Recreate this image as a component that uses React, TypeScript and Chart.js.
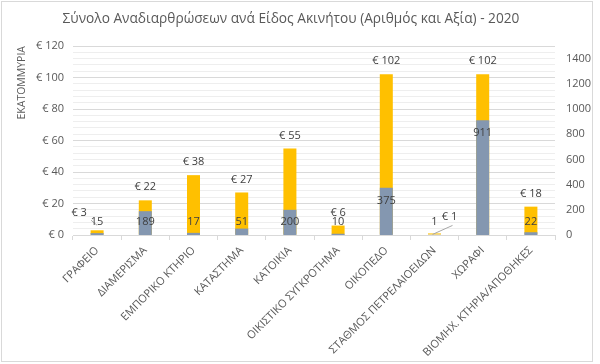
import React, { useEffect, useRef } from "react";
import { Chart, registerables } from "chart.js";

Chart.register(...registerables);

const titleText = "Σύνολο Αναδιαρθρώσεων ανά Είδος Ακινήτου (Αριθμός και Αξία) - 2020";
const categories = [
  "ΓΡΑΦΕΙΟ",
  "ΔΙΑΜΕΡΙΣΜΑ",
  "ΕΜΠΟΡΙΚΟ ΚΤΗΡΙΟ",
  "ΚΑΤΑΣΤΗΜΑ",
  "ΚΑΤΟΙΚΙΑ",
  "ΟΙΚΙΣΤΙΚΟ ΣΥΓΚΡΟΤΗΜΑ",
  "ΟΙΚΟΠΕΔΟ",
  "ΣΤΑΘΜΟΣ ΠΕΤΡΕΛΑΙΟΕΙΔΩΝ",
  "ΧΩΡΑΦΙ",
  "ΒΙΟΜΗΧ. ΚΤΗΡΙΑ/ΑΠΟΘΗΚΕΣ",
];
const valueMillions = [3, 22, 38, 27, 55, 6, 102, 1, 102, 18];
const countValues = [15, 189, 17, 51, 200, 10, 375, 1, 911, 22];

const leftMax = 120;
const leftStep = 4;
const leftLabelStep = 20;
const rightMax = 1500;
const rightStep = 200;
const rightLabelMax = 1400;

const FONT = "'Open Sans', 'Noto Sans', sans-serif";
const TEXT = "#595959";
const LABEL = "#404040";
const YELLOW = "#FFC000";
const BLUEGRAY = "#8497B0";

// manual label nudges (label offset from bar top, leader-line endpoints)
const valueNudge: Record<number, { dx: number; dy: number; from: [number, number]; to: [number, number] }> = {
  0: { dx: -18, dy: -17, from: [12, 7], to: [0, -5] },
  7: { dx: 15, dy: -17, from: [3, 9], to: [-2, 1] },
};

const labelPlugin = {
  id: "customLabels",
  beforeDraw(chart: any) {
    const ctx = chart.ctx;
    ctx.save();
    ctx.strokeStyle = "#d9d9d9";
    ctx.lineWidth = 1;
    ctx.strokeRect(1.5, 1.5, 591, 360);
    ctx.font = `13.7px ${FONT}`;
    ctx.fillStyle = TEXT;
    ctx.textAlign = "center";
    ctx.textBaseline = "middle";
    ctx.fillText(titleText, 291, 19);
    ctx.restore();
  },
  afterDatasetsDraw(chart: any) {
    const ctx = chart.ctx;
    const valMeta = chart.getDatasetMeta(0);
    const cntMeta = chart.getDatasetMeta(1);
    ctx.save();
    ctx.font = `11px ${FONT}`;
    ctx.fillStyle = LABEL;
    ctx.textAlign = "center";
    ctx.textBaseline = "middle";
    valMeta.data.forEach((el: any, i: number) => {
      const nudge = valueNudge[i];
      const text = `€ ${valueMillions[i]}`;
      if (nudge) {
        const lx = el.x + nudge.dx;
        const ly = el.y + nudge.dy;
        ctx.fillText(text, lx, ly);
        ctx.save();
        ctx.strokeStyle = "#a6a6a6";
        ctx.lineWidth = 1;
        ctx.beginPath();
        ctx.moveTo(lx + nudge.from[0], ly + nudge.from[1]);
        ctx.lineTo(el.x + nudge.to[0], el.y + nudge.to[1]);
        ctx.stroke();
        ctx.restore();
      } else {
        ctx.fillText(text, el.x, el.y - 13);
      }
    });
    cntMeta.data.forEach((el: any, i: number) => {
      const y = Math.min(el.y + 13, el.base - 13);
      ctx.fillText(String(countValues[i]), el.x, y);
    });
    ctx.restore();
  },
};

export default function App() {
  const ref = useRef<HTMLCanvasElement | null>(null);
  useEffect(() => {
    if (!ref.current) return;
    const chart = new Chart(ref.current, {
      type: "bar",
      data: {
        labels: categories,
        datasets: [
          {
            label: "Αξία",
            data: valueMillions,
            backgroundColor: YELLOW,
            yAxisID: "y",
            order: 2,
            barPercentage: 0.27,
            categoryPercentage: 1,
          },
          {
            label: "Αριθμός",
            data: countValues,
            backgroundColor: BLUEGRAY,
            yAxisID: "y1",
            order: 1,
            barPercentage: 0.27,
            categoryPercentage: 1,
          },
        ],
      },
      options: {
        responsive: false,
        animation: false,
        devicePixelRatio: 1,
        layout: { padding: { left: 0, right: 0, top: 46, bottom: 0 } },
        plugins: {
          legend: { display: false },
          tooltip: { enabled: false },
          title: { display: false },
        },
        scales: {
          x: {
            stacked: true,
            afterFit(scale: any) {
              scale.height = 129;
            },
            grid: {
              offset: true,
              drawOnChartArea: false,
              drawTicks: true,
              tickLength: 5,
              color: "#d9d9d9",
            },
            border: { display: true, color: "#d9d9d9" },
            ticks: {
              color: TEXT,
              font: { family: FONT, size: 11 },
              minRotation: 45,
              maxRotation: 45,
              autoSkip: false,
              padding: 4,
            },
          },
          y: {
            position: "left",
            min: 0,
            max: leftMax,
            afterFit(scale: any) {
              scale.width = 73;
            },
            border: { display: false },
            grid: {
              drawTicks: false,
              color: (c: any) =>
                c.tick && c.tick.value % leftLabelStep === 0 ? "#d9d9d9" : "#eeeeee",
            },
            ticks: {
              stepSize: leftStep,
              autoSkip: false,
              padding: 9,
              color: TEXT,
              font: { family: FONT, size: 11 },
              callback: (v: any) => (v % leftLabelStep === 0 ? `€ ${v}` : ""),
            },
            title: {
              display: true,
              text: "ΕΚΑΤΟΜΜΥΡΙΑ",
              align: "end",
              color: TEXT,
              font: { family: FONT, size: 10.5 },
              padding: { top: 16, bottom: 4 },
            },
          },
          y1: {
            position: "right",
            min: 0,
            max: rightMax,
            afterFit(scale: any) {
              scale.width = 45;
            },
            border: { display: false },
            grid: { display: false, drawTicks: false },
            ticks: {
              stepSize: rightStep,
              padding: 11,
              color: TEXT,
              font: { family: FONT, size: 11 },
              callback: (v: any) => (v > rightLabelMax ? "" : String(v)),
            },
          },
        },
      },
      plugins: [labelPlugin],
    } as any);
    return () => chart.destroy();
  }, []);
  return (
    <div style={{ position: "fixed", left: 0, top: 0, width: 600, height: 364, background: "#fff" }}>
      <canvas ref={ref} width={600} height={364} />
    </div>
  );
}
